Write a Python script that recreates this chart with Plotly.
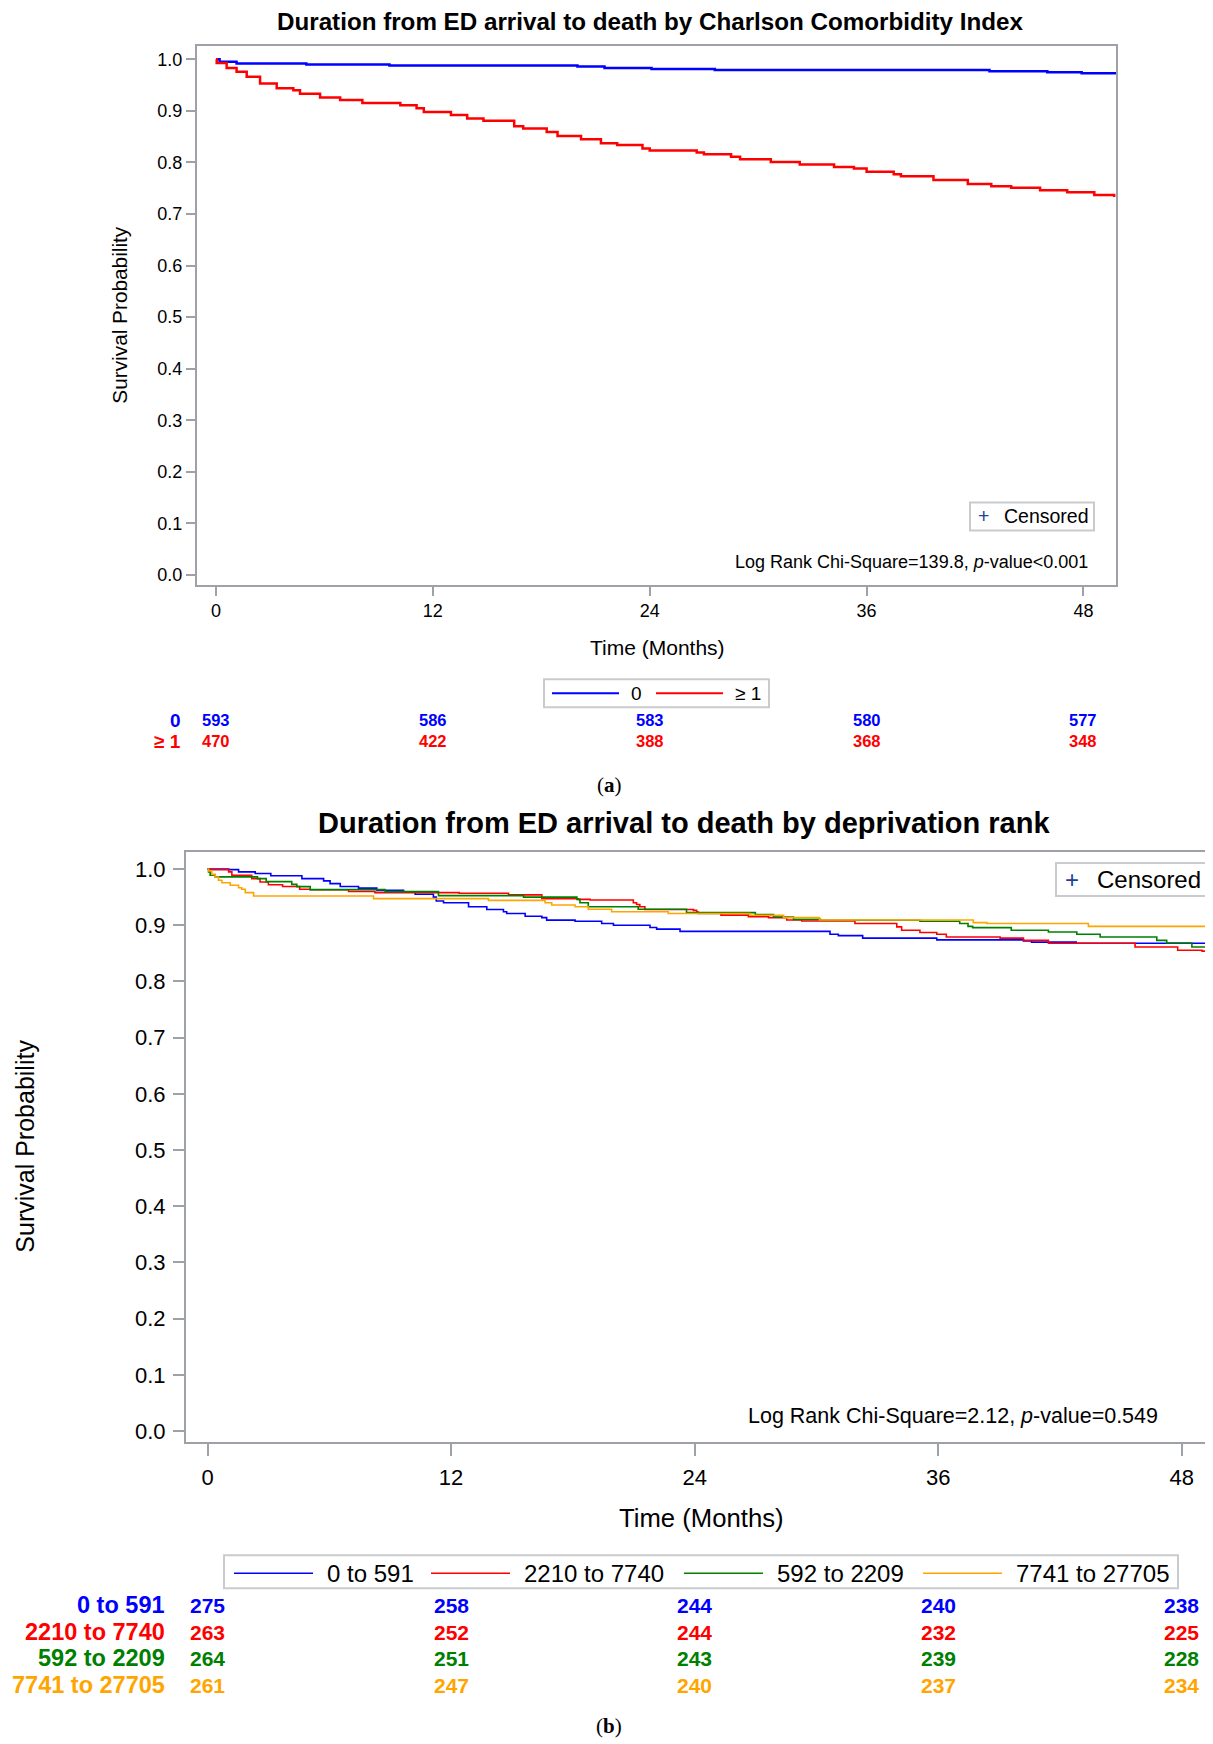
import plotly.graph_objects as go

W, H = 1213, 1744

# ---------------- Panel (a): Charlson Comorbidity Index ----------------
cci_title = "Duration from ED arrival to death by Charlson Comorbidity Index"
cci_groups = ["0", "≥ 1"]
cci_colors = ["#0000FF", "#FF0000"]
cci0_time = [0, 0.2, 1.14, 5.0, 9.6, 20.0, 21.5, 24.1, 27.6, 42.8, 46.0, 47.9, 50.5]
cci0_surv = [1.0, 0.995, 0.992, 0.990, 0.988, 0.986, 0.983, 0.981, 0.979, 0.977, 0.975, 0.973, 0.973]
cci1_time = [0, 0.04, 0.59, 1.14, 1.7, 2.44, 3.36, 4.28, 4.65, 5.76, 6.87, 8.1, 10.2, 11.1, 11.5,
             13.0, 13.9, 14.8, 16.5, 17.0, 18.3, 18.9, 20.2, 21.3, 22.2, 23.6, 24.0, 26.6, 27.0,
             28.5, 29.0, 30.7, 32.3, 34.2, 35.3, 36.0, 37.5, 37.9, 39.7, 41.6, 42.9, 44.0, 45.6,
             47.1, 48.6, 49.7]
cci1_surv = [1.0, 0.993, 0.983, 0.976, 0.966, 0.953, 0.944, 0.940, 0.933, 0.926, 0.921, 0.915,
             0.911, 0.905, 0.898, 0.892, 0.885, 0.881, 0.870, 0.866, 0.859, 0.851, 0.845, 0.837,
             0.834, 0.827, 0.823, 0.819, 0.816, 0.811, 0.806, 0.801, 0.796, 0.791, 0.788, 0.782,
             0.777, 0.773, 0.766, 0.758, 0.754, 0.751, 0.746, 0.742, 0.737, 0.733]
cci_risk_times = [0, 12, 24, 36, 48]
cci0_at_risk = [593, 586, 583, 580, 577]
cci1_at_risk = [470, 422, 388, 368, 348]
cci_logrank = "Log Rank Chi-Square=139.8, <i>p</i>-value<0.001"

# ---------------- Panel (b): deprivation rank ----------------
dep_title = "Duration from ED arrival to death by deprivation rank"
dep_groups = ["0 to 591", "2210 to 7740", "592 to 2209", "7741 to 27705"]
dep_colors = ["#0000FF", "#FF0000", "#008000", "#FFA500"]
dep1_time = [0, 1.04, 1.53, 2.35, 3.12, 4.65, 5.72, 6.04, 6.54, 7.44, 8.34, 9.66, 10.23, 11.13,
             11.27, 11.63, 12.86, 13.76, 14.58, 14.74, 15.65, 16.47, 16.71, 18.11, 19.42, 20.0,
             21.8, 22.13, 23.28, 30.67, 31.08, 32.28, 35.93, 40.2, 40.6, 42.8, 50.0]
dep1_surv = [1.0, 0.999, 0.995, 0.992, 0.988, 0.983, 0.979, 0.974, 0.969, 0.966, 0.962, 0.959,
             0.955, 0.950, 0.943, 0.940, 0.933, 0.928, 0.924, 0.921, 0.916, 0.9135, 0.909, 0.907,
             0.903, 0.900, 0.896, 0.893, 0.889, 0.884, 0.8815, 0.877, 0.874, 0.872, 0.870, 0.868,
             0.868]
dep2_time = [0, 0.13, 1.04, 1.2, 2.18, 2.59, 3.0, 3.7, 4.54, 5.06, 6.95, 8.25, 12.4, 14.83, 16.47,
             18.27, 18.85, 20.98, 21.14, 21.3, 21.55, 23.94, 24.1, 24.18, 25.3, 26.65, 27.64,
             28.54, 29.28, 31.9, 33.96, 34.2, 35.1, 35.93, 36.4, 39.05, 40.2, 41.43, 45.7, 47.8,
             49.0, 50.0]
dep2_surv = [1.0, 0.999, 0.995, 0.989, 0.983, 0.977, 0.972, 0.969, 0.964, 0.963, 0.960, 0.958,
             0.957, 0.954, 0.947, 0.946, 0.945, 0.940, 0.937, 0.933, 0.928, 0.9265, 0.9236, 0.921,
             0.918, 0.915, 0.9135, 0.9094, 0.9076, 0.903, 0.897, 0.891, 0.887, 0.884, 0.879,
             0.877, 0.873, 0.868, 0.8614, 0.8555, 0.854, 0.854]
dep3_time = [0, 0.05, 0.13, 0.38, 2.46, 2.89, 4.15, 4.4, 5.06, 8.75, 11.38, 15.57, 18.2, 18.35,
             18.76, 21.22, 23.6, 26.99, 27.89, 28.87, 30.2, 35.1, 37.06, 37.47, 37.7, 39.6, 41.43,
             42.83, 43.98, 46.77, 47.26, 48.5, 50.0]
dep3_surv = [1.0, 0.995, 0.989, 0.986, 0.983, 0.9775, 0.9727, 0.9686, 0.9633, 0.9597, 0.9526,
             0.950, 0.946, 0.940, 0.933, 0.9283, 0.9224, 0.9188, 0.9147, 0.9105, 0.9088, 0.907,
             0.903, 0.898, 0.8957, 0.891, 0.888, 0.884, 0.879, 0.873, 0.8685, 0.8614, 0.8614]
dep4_time = [0, 0.05, 0.21, 0.38, 0.54, 0.71, 1.12, 1.53, 1.69, 1.86, 2.27, 8.18, 13.84, 16.63,
             16.96, 18.11, 18.76, 19.91, 22.7, 26.73, 28.38, 30.15, 37.73, 38.4, 43.4, 49.2, 50.0]
dep4_surv = [1.0, 0.9964, 0.9905, 0.9858, 0.980, 0.9757, 0.971, 0.9668, 0.9639, 0.958, 0.952,
             0.9473, 0.9443, 0.940, 0.936, 0.933, 0.9283, 0.924, 0.921, 0.9177, 0.9135, 0.9094,
             0.9046, 0.903, 0.898, 0.8934, 0.8934]
dep_risk_times = [0, 12, 24, 36, 48]
dep1_at_risk = [275, 258, 244, 240, 238]
dep2_at_risk = [263, 252, 244, 232, 225]
dep3_at_risk = [264, 251, 243, 239, 228]
dep4_at_risk = [261, 247, 240, 237, 234]
dep_logrank = "Log Rank Chi-Square=2.12, <i>p</i>-value=0.549"

y_ticks = [i / 10 for i in range(11)]
x_ticks = [0, 12, 24, 36, 48]

# ---------------- helpers ----------------
FONT = "Liberation Sans, Arial, sans-serif"
AXC = "#9EA2A7"
BOXC = "#C9CBCE"
PAGE_OFFSET = 8  # default body margin of the html page


def X(p):
    return (p - PAGE_OFFSET) / W


def Y(p):
    return 1 - (p - PAGE_OFFSET) / H


fig = go.Figure()

for t, s, c in [(cci0_time, cci0_surv, cci_colors[0]), (cci1_time, cci1_surv, cci_colors[1])]:
    fig.add_trace(go.Scatter(x=t, y=s, mode="lines", line=dict(shape="hv", color=c, width=2.5),
                             xaxis="x", yaxis="y", showlegend=False, hoverinfo="skip"))

dep_series = [(dep1_time, dep1_surv), (dep2_time, dep2_surv), (dep3_time, dep3_surv),
              (dep4_time, dep4_surv)]
for (t, s), c in zip(dep_series, dep_colors):
    fig.add_trace(go.Scatter(x=t, y=s, mode="lines", line=dict(shape="hv", color=c, width=1.6),
                             xaxis="x2", yaxis="y2", showlegend=False, hoverinfo="skip"))

ann = []
shapes = []


def text(x, y, s, size, color="black", xanchor="center", bold=False, family=FONT, angle=0,
         xref="paper"):
    ann.append(dict(x=x, y=y, xref=xref, yref="paper", text=("<b>%s</b>" % s) if bold else s,
                    showarrow=False, xanchor=xanchor, yanchor="middle", textangle=angle,
                    font=dict(family=family, size=size, color=color)))


# Titles and axis titles
text(X(650), Y(22), cci_title, 24.2, bold=True)
text(X(120), Y(316), "Survival Probability", 20.8, angle=-90)
text(X(657), Y(648), "Time (Months)", 21)
text(X(684), Y(824), dep_title, 29, bold=True)
text(X(25), Y(1148), "Survival Probability", 25, angle=-90)
text(X(702), Y(1520), "Time (Months)", 25.7)

# Log rank
text(X(1090), Y(563), cci_logrank, 18, xanchor="right")
text(X(1160), Y(1418), dep_logrank, 21.5, xanchor="right")

# Censored boxes
for (x0, y0, x1, y1, plus_x, txt_x, fs) in [(970, 503, 1094, 531, 983, 1002, 19.5),
                                            (1056, 864, 1210, 897, 1072, 1095, 24)]:
    shapes.append(dict(type="rect", xref="paper", yref="paper", x0=X(x0), x1=X(x1),
                       y0=Y(y1), y1=Y(y0), line=dict(color=BOXC, width=2)))
    yc = (y0 + y1) / 2
    text(X(plus_x), Y(yc), "+", fs, color="#2040A0")
    text(X(txt_x), Y(yc), "Censored", fs, xanchor="left")

# Legend (a)
shapes.append(dict(type="rect", xref="paper", yref="paper", x0=X(544), x1=X(769),
                   y0=Y(708), y1=Y(680), line=dict(color=BOXC, width=2)))
for name, col, lx in zip(cci_groups, cci_colors, [552, 656]):
    shapes.append(dict(type="line", xref="paper", yref="paper", x0=X(lx), x1=X(lx + 67),
                       y0=Y(694), y1=Y(694), line=dict(color=col, width=2)))
    text(X(lx + 77), Y(694), name, 19, xanchor="left")

# Legend (b)
shapes.append(dict(type="rect", xref="paper", yref="paper", x0=X(224), x1=X(1178),
                   y0=Y(1590), y1=Y(1557), line=dict(color=BOXC, width=2)))
for name, col, lx in zip(dep_groups, dep_colors, [234, 431, 684, 923]):
    shapes.append(dict(type="line", xref="paper", yref="paper", x0=X(lx), x1=X(lx + 79),
                       y0=Y(1575), y1=Y(1575), line=dict(color=col, width=1.5)))
    text(X(lx + 91), Y(1575), name, 24, xanchor="left")

# At-risk tables
for name, col, row, yy in [(cci_groups[0], cci_colors[0], cci0_at_risk, 721),
                           (cci_groups[1], cci_colors[1], cci1_at_risk, 742)]:
    text(X(183), Y(yy), name, 19, color=col, xanchor="right", bold=True)
    for t, n in zip(cci_risk_times, row):
        text(t, Y(yy), str(n), 16.5, color=col, bold=True, xref="x")

for name, col, row, yy in zip(dep_groups, dep_colors,
                              [dep1_at_risk, dep2_at_risk, dep3_at_risk, dep4_at_risk],
                              [1607, 1634, 1660, 1687]):
    text(X(167), Y(yy), name, 23.5, color=col, xanchor="right", bold=True)
    for t, n in zip(dep_risk_times, row):
        text(t, Y(yy), str(n), 21, color=col, bold=True, xref="x2")

# Panel labels
text(X(609), Y(786), "(<b>a</b>)", 21, family="Liberation Serif, Times New Roman, serif")
text(X(609), Y(1728), "(<b>b</b>)", 21, family="Liberation Serif, Times New Roman, serif")

axis_common = dict(showline=True, linecolor=AXC, linewidth=2, ticks="outside", tickcolor=AXC,
                   tickwidth=2, showgrid=False, zeroline=False,
                   tickfont=dict(family=FONT, color="black"))

fig.update_layout(
    width=W, height=H, margin=dict(l=0, r=0, t=0, b=0),
    paper_bgcolor="white", plot_bgcolor="white", showlegend=False,
    font=dict(family=FONT, color="black"),
    xaxis=dict(axis_common, domain=[X(197), X(1116)], range=[-1.05, 49.8], tickvals=x_ticks,
               mirror=True, ticklen=9, anchor="y", tickfont=dict(family=FONT, size=18)),
    yaxis=dict(axis_common, domain=[Y(585.3), Y(46)], range=[-0.0186, 1.0258], tickvals=y_ticks,
               tickformat=".1f", mirror=True, ticklen=9, anchor="x",
               tickfont=dict(family=FONT, size=18)),
    xaxis2=dict(axis_common, domain=[X(186), X(1213)], range=[-1.06, 49.54], tickvals=x_ticks,
                mirror=True, ticklen=12, anchor="y2", ticklabelstandoff=3,
                tickfont=dict(family=FONT, size=22)),
    yaxis2=dict(axis_common, domain=[Y(1443.3), Y(853.3)], range=[-0.0188, 1.0297],
                tickvals=y_ticks, tickformat=".1f", mirror=False, ticklen=11, anchor="x2",
                ticklabelstandoff=3, tickfont=dict(family=FONT, size=22)),
    annotations=ann, shapes=shapes,
)

fig.write_html("out.html")
